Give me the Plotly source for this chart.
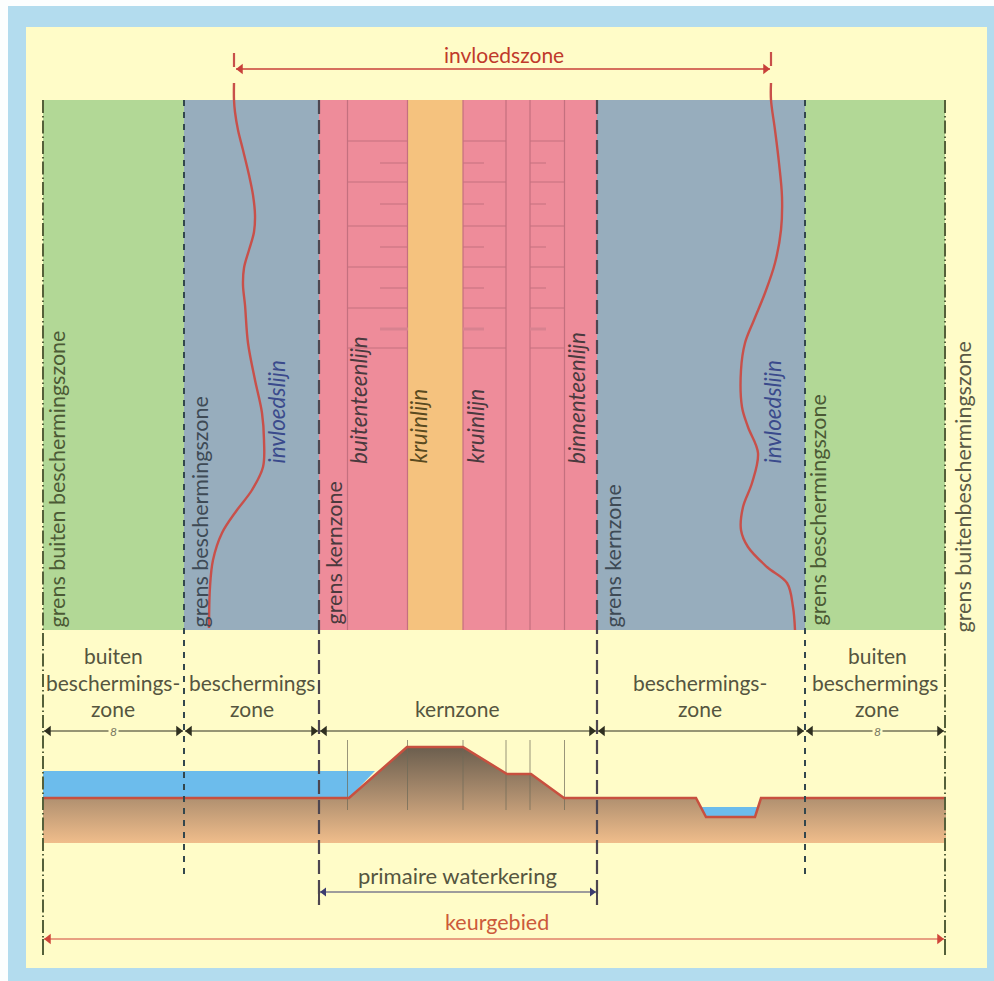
import plotly.graph_objects as go

# ---------- data (pixel-like schematic units) ----------
frame_x = [8, 994]
frame_y = [6, 981]
panel_x = [26, 987]
panel_y = [27, 968]
zone_top = 100
zone_bottom = 630
zone_edges = [43, 184, 319, 408, 463, 597, 805, 945]
zone_colors = ["#b2d896", "#97adbd", "#ee8c9a", "#f5c27e", "#ee8c9a", "#97adbd", "#b2d896"]

dike_lines_x = [347.5, 407.5, 463, 506, 530, 564.5]
band_rows = [141, 182, 226, 267, 308, 348]
band_spans = [[347.5, 408], [463, 506], [530, 564.5]]
tick_rows = [163, 204, 247, 288]
faint_tick_row = 329
tick_spans = [[380, 408], [463, 484], [530, 546]]

profile_x = [43, 349, 407, 463, 507, 531, 564, 696, 706, 755, 761, 946]
profile_y = [798, 798, 747, 747, 774, 774, 798, 798, 817, 817, 798, 798]
soil_bottom = 843
sea_x = [43, 375, 349, 43]
sea_y = [771, 771, 798, 798]
ditch_x = [701, 759, 755, 706]
ditch_y = [807, 807, 817, 817]
section_line_top = 740
section_line_bottom = 810

influence_left_x = [234, 234, 235, 238, 243, 249, 253, 255, 254, 249, 244, 243, 245, 248, 255, 262, 264, 263, 252, 237, 222, 213, 210, 209]
influence_left_y = [83, 100, 112, 130, 150, 175, 195, 215, 232, 250, 268, 285, 305, 343, 380, 413, 440, 467, 490, 510, 533, 560, 587, 628]
influence_right_x = [771, 771, 775, 779, 782, 781, 775, 765, 754, 745, 741, 742, 748, 758, 752, 743, 741, 748, 767, 787, 793, 795]
influence_right_y = [83, 100, 130, 163, 197, 230, 263, 293, 320, 343, 370, 407, 427, 453, 483, 507, 530, 547, 567, 583, 607, 630]

boundaries = [
    (43, 955, "13px,3px,1.5px,3px", "#55603a", 2),
    (184, 880, "6px,6px", "#33474d", 2),
    (319, 905, "14px,6px", "#4d4650", 2.2),
    (597, 905, "14px,6px", "#4d4650", 2.2),
    (805, 880, "6px,6px", "#33474d", 2),
    (945, 955, "13px,3px,1.5px,3px", "#55603a", 2),
]

dimension_y = 731
dimension_spans = [[43, 184], [184, 319], [319, 597], [597, 805], [805, 945]]

invloed_arrow = [235, 771]
invloed_arrow_y = 69
waterkering_arrow = [319, 597]
waterkering_arrow_y = 892
keur_arrow = [43, 945]
keur_arrow_y = 939

vertical_labels = [
    ("grens buiten beschermingszone", 56, 630, "#4b5a35", False),
    ("grens beschermingszone", 199, 630, "#3e4a55", False),
    ("invloedslijn", 276, 466, "#3a4a8c", True),
    ("grens kernzone", 333, 627, "#4a3a3e", False),
    ("buitenteenlijn", 358, 466, "#4a3a3e", True),
    ("kruinlijn", 418, 466, "#5a4a20", True),
    ("kruinlijn", 475, 466, "#4a3a3e", True),
    ("binnenteenlijn", 576, 466, "#4a3a3e", True),
    ("grens kernzone", 612, 630, "#3e4a55", False),
    ("invloedslijn", 772, 466, "#3a4a8c", True),
    ("grens beschermingszone", 817, 628, "#4b5a35", False),
    ("grens buitenbeschermingszone", 962, 635, "#5a5a45", False),
]
flat_labels = [
    ("invloedszone", 504, 54, "#c0392b", 21),
    ("buiten", 113, 655, "#55553f", 21),
    ("beschermings-", 113, 682, "#55553f", 21),
    ("zone", 113, 708, "#55553f", 21),
    ("beschermings", 252, 682, "#55553f", 21),
    ("zone", 252, 708, "#55553f", 21),
    ("kernzone", 457, 708, "#55553f", 21),
    ("beschermings-", 700, 682, "#55553f", 21),
    ("zone", 700, 708, "#55553f", 21),
    ("buiten", 877, 655, "#55553f", 21),
    ("beschermings", 875, 682, "#55553f", 21),
    ("zone", 877, 708, "#55553f", 21),
    ("primaire waterkering", 457, 875, "#55553f", 22),
    ("keurgebied", 497, 922, "#cc5a3a", 21.5),
]
span_marks = [(113, dimension_y), (877, dimension_y)]

FONT = "Lato"
VERTICAL_SIZE = 21.5
ITALIC_SIZE = 22.5
fig = go.Figure()


def poly(xs, ys, color):
    fig.add_trace(go.Scatter(x=xs, y=ys, mode="lines", fill="toself", fillcolor=color,
                             line=dict(width=0), hoverinfo="skip", showlegend=False))


def rect(x0, x1, y0, y1, color):
    poly([x0, x1, x1, x0, x0], [y0, y0, y1, y1, y0], color)


def line(xs, ys, color, width=1, dash="solid", shape="linear", opacity=1):
    fig.add_trace(go.Scatter(x=xs, y=ys, mode="lines", opacity=opacity,
                             line=dict(color=color, width=width, dash=dash, shape=shape),
                             hoverinfo="skip", showlegend=False))


def arrow(x0, x1, y, color, width=1, size=9):
    inset = size / 2
    line([x0 + 1, x1 - 1], [y, y], color, width)
    fig.add_trace(go.Scatter(x=[x0 + inset + 1, x1 - inset - 1], y=[y, y], mode="markers",
                             marker=dict(symbol=["triangle-left", "triangle-right"], size=size, color=color),
                             hoverinfo="skip", showlegend=False))


# backgrounds
rect(frame_x[0], frame_x[1], frame_y[0], frame_y[1], "#b3dcee")
rect(panel_x[0], panel_x[1], panel_y[0], panel_y[1], "#fffcc8")

# plan-view zones
for i, c in enumerate(zone_colors):
    rect(zone_edges[i], zone_edges[i + 1], zone_top, zone_bottom, c)

# dike plan lines
for x in dike_lines_x:
    line([x, x], [zone_top, zone_bottom], "#c4707f", 1.2)
for span in band_spans:
    for r in band_rows:
        line(span, [r, r], "#c4707f", 1)
for span in tick_spans:
    for r in tick_rows:
        line(span, [r, r], "#c4707f", 1)
    line(span, [faint_tick_row, faint_tick_row], "#d88290", 3)

# cross-section
sx = profile_x + [profile_x[-1], profile_x[0], profile_x[0]]
sy = profile_y + [soil_bottom, soil_bottom, profile_y[0]]
fig.add_trace(go.Scatter(x=sx, y=sy, mode="lines", fill="toself", line=dict(width=0),
                         fillgradient=dict(type="vertical", start=min(profile_y), stop=soil_bottom,
                                           colorscale=[[0, "#6b5e4e"], [0.5, "#ac8d6e"], [1, "#f0bd8b"]]),
                         hoverinfo="skip", showlegend=False))
poly(sea_x + [sea_x[0]], sea_y + [sea_y[0]], "#6cbcec")
poly(ditch_x + [ditch_x[0]], ditch_y + [ditch_y[0]], "#6cbcec")
for x in dike_lines_x:
    line([x, x], [section_line_top, section_line_bottom], "#6e6a58", 1, opacity=0.7)
line(profile_x, profile_y, "#c8503f", 2.5)

# zone boundaries
for x, bottom, dash, color, w in boundaries:
    line([x, x], [zone_top, bottom], color, w, dash)

# influence lines
line(influence_left_x, influence_left_y, "#c8504a", 2.4, shape="spline")
line(influence_right_x, influence_right_y, "#c8504a", 2.4, shape="spline")
line([234, 234], [53, 67], "#c8504a", 2.2)
line([771, 771], [52, 66], "#c8504a", 2.2)

# dimension arrows
for span in dimension_spans:
    arrow(span[0], span[1], dimension_y, "#2f2f20", 1, 9)
arrow(invloed_arrow[0], invloed_arrow[1], invloed_arrow_y, "#c8403a", 1.3, 9)
arrow(waterkering_arrow[0], waterkering_arrow[1], waterkering_arrow_y, "#3c3c70", 1, 8)
arrow(keur_arrow[0], keur_arrow[1], keur_arrow_y, "#d0453a", 1, 9)
line([319, 319], [892, 905], "#4d4650", 2)
line([597, 597], [890, 905], "#4d4650", 2)
line([43, 43], [939, 955], "#55603a", 2)
line([945, 945], [939, 955], "#55603a", 2)

annotations = []
for text, x, y, color, italic in vertical_labels:
    annotations.append(dict(
        x=x, y=y, xref="x", yref="y", text=f"<i>{text}</i>" if italic else text, textangle=-90,
        showarrow=False, xanchor="center", yanchor="bottom",
        font=dict(family=FONT, size=ITALIC_SIZE if italic else VERTICAL_SIZE, color=color)))
for text, x, y, color, size in flat_labels:
    annotations.append(dict(
        x=x, y=y, xref="x", yref="y", text=text, showarrow=False,
        xanchor="center", yanchor="middle", font=dict(family=FONT, size=size, color=color)))
for x, y in span_marks:
    annotations.append(dict(
        x=x, y=y, xref="x", yref="y", text="<i>8</i>", showarrow=False, bgcolor="#fffcc8",
        xanchor="center", yanchor="middle", font=dict(family=FONT, size=12, color="#77775f")))

fig.update_layout(
    width=994, height=981, margin=dict(l=0, r=0, t=0, b=0),
    paper_bgcolor="#fcfefe", plot_bgcolor="#fcfefe", showlegend=False,
    xaxis=dict(range=[0, 994], visible=False, fixedrange=True),
    yaxis=dict(range=[981, 0], visible=False, fixedrange=True),
    annotations=annotations,
)

fig.write_html("out.html", config=dict(displayModeBar=False),
               post_script="document.body.style.margin='0';document.body.style.overflow='hidden';")
